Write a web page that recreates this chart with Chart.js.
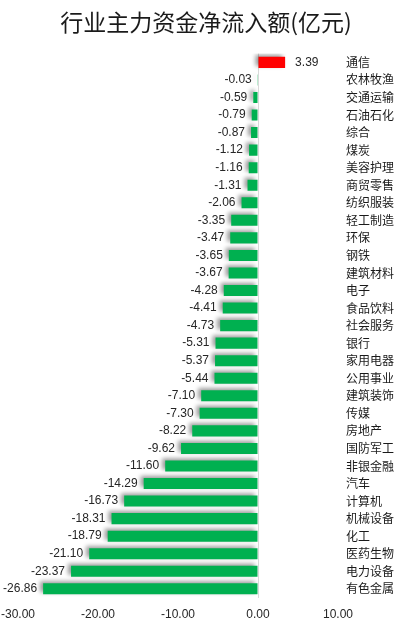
<!DOCTYPE html>
<html lang="zh">
<head>
    <meta charset="UTF-8">
    <title>行业主力资金净流入额</title>
    <style>
        html, body {
            margin: 0;
            padding: 0;
            background: #ffffff;
        }
        #wrap {
            width: 399px;
            height: 628px;
        }
    </style>
</head>
<body>
<div id="wrap"><canvas id="flowChart"></canvas></div>

<script src="https://cdn.jsdelivr.net/npm/chart.js"></script>
<script>
    // industries, top to bottom
    const industries = ['通信', '农林牧渔', '交通运输', '石油石化', '综合', '煤炭', '美容护理', '商贸零售',
        '纺织服装', '轻工制造', '环保', '钢铁', '建筑材料', '电子', '食品饮料', '社会服务', '银行',
        '家用电器', '公用事业', '建筑装饰', '传媒', '房地产', '国防军工', '非银金融', '汽车', '计算机',
        '机械设备', '化工', '医药生物', '电力设备', '有色金属'];
    // net inflow, 亿元
    const netInflow = [3.39, -0.03, -0.59, -0.79, -0.87, -1.12, -1.16, -1.31, -2.06, -3.35, -3.47,
        -3.65, -3.67, -4.28, -4.41, -4.73, -5.31, -5.37, -5.44, -7.10, -7.30, -8.22, -9.62, -11.60,
        -14.29, -16.73, -18.31, -18.79, -21.10, -23.37, -26.86];
    const xTicks = [-30, -20, -10, 0, 10];

    const barColors = netInflow.map(v => v >= 0 ? '#ff0000' : '#00b050');

    // soft shadow behind the bars, like the spreadsheet original
    const barShadow = {
        id: 'barShadow',
        beforeDatasetsDraw(chart) {
            const ctx = chart.ctx;
            ctx.save();
            ctx.shadowColor = 'rgba(0, 0, 0, 0.4)';
            ctx.shadowBlur = 4;
            ctx.shadowOffsetX = -3;
            ctx.shadowOffsetY = -2;
        },
        afterDatasetsDraw(chart) {
            chart.ctx.restore();
        }
    };

    // value text at the end of each bar
    const valueLabels = {
        id: 'valueLabels',
        afterDatasetsDraw(chart) {
            const ctx = chart.ctx;
            const meta = chart.getDatasetMeta(0);
            ctx.save();
            ctx.font = '12px "Liberation Sans", Arial, sans-serif';
            ctx.fillStyle = '#262626';
            ctx.textBaseline = 'middle';
            meta.data.forEach((bar, i) => {
                const v = netInflow[i];
                const txt = v.toFixed(2);
                if (v >= 0) {
                    ctx.textAlign = 'left';
                    ctx.fillText(txt, bar.x + 10, bar.y);
                } else {
                    ctx.textAlign = 'right';
                    ctx.fillText(txt, bar.x - 6, bar.y);
                }
            });
            ctx.restore();
        }
    };

    new Chart(document.getElementById('flowChart'), {
        type: 'bar',
        data: {
            labels: industries,
            datasets: [{
                data: netInflow,
                backgroundColor: barColors,
                borderWidth: 0,
                categoryPercentage: 1,
                barPercentage: 0.63
            }]
        },
        options: {
            indexAxis: 'y',
            responsive: true,
            maintainAspectRatio: false,
            animation: false,
            layout: {
                padding: { top: 0, right: 5, bottom: -4, left: 18 }
            },
            plugins: {
                legend: { display: false },
                tooltip: { enabled: false },
                title: {
                    display: true,
                    text: '行业主力资金净流入额(亿元)',
                    color: '#1a1a1a',
                    font: { family: '"Noto Sans CJK SC", sans-serif', size: 23, weight: 'normal' },
                    padding: { top: 8, bottom: 18 }
                }
            },
            scales: {
                x: {
                    min: -30,
                    max: 10,
                    afterBuildTicks(scale) {
                        scale.ticks = xTicks.map(v => ({ value: v }));
                    },
                    afterFit(scale) {
                        scale.paddingLeft = 0;
                        scale.paddingRight = 0;
                    },
                    border: { display: false },
                    grid: {
                        drawTicks: false,
                        color: ctx => ctx.tick && ctx.tick.value === 0 ? '#d9d9d9' : 'rgba(0,0,0,0)'
                    },
                    ticks: {
                        padding: 10,
                        color: '#262626',
                        font: { family: '"Liberation Sans", Arial, sans-serif', size: 12 },
                        callback: v => Number(v).toFixed(2)
                    }
                },
                y: {
                    position: 'right',
                    border: { display: false },
                    grid: { display: false, drawTicks: false },
                    afterFit(scale) {
                        scale.width = 56;
                    },
                    ticks: {
                        padding: 8,
                        color: '#1a1a1a',
                        autoSkip: false,
                        font: { family: '"Noto Sans CJK SC", sans-serif', size: 12 }
                    }
                }
            }
        },
        plugins: [barShadow, valueLabels]
    });
</script>
</body>
</html>
